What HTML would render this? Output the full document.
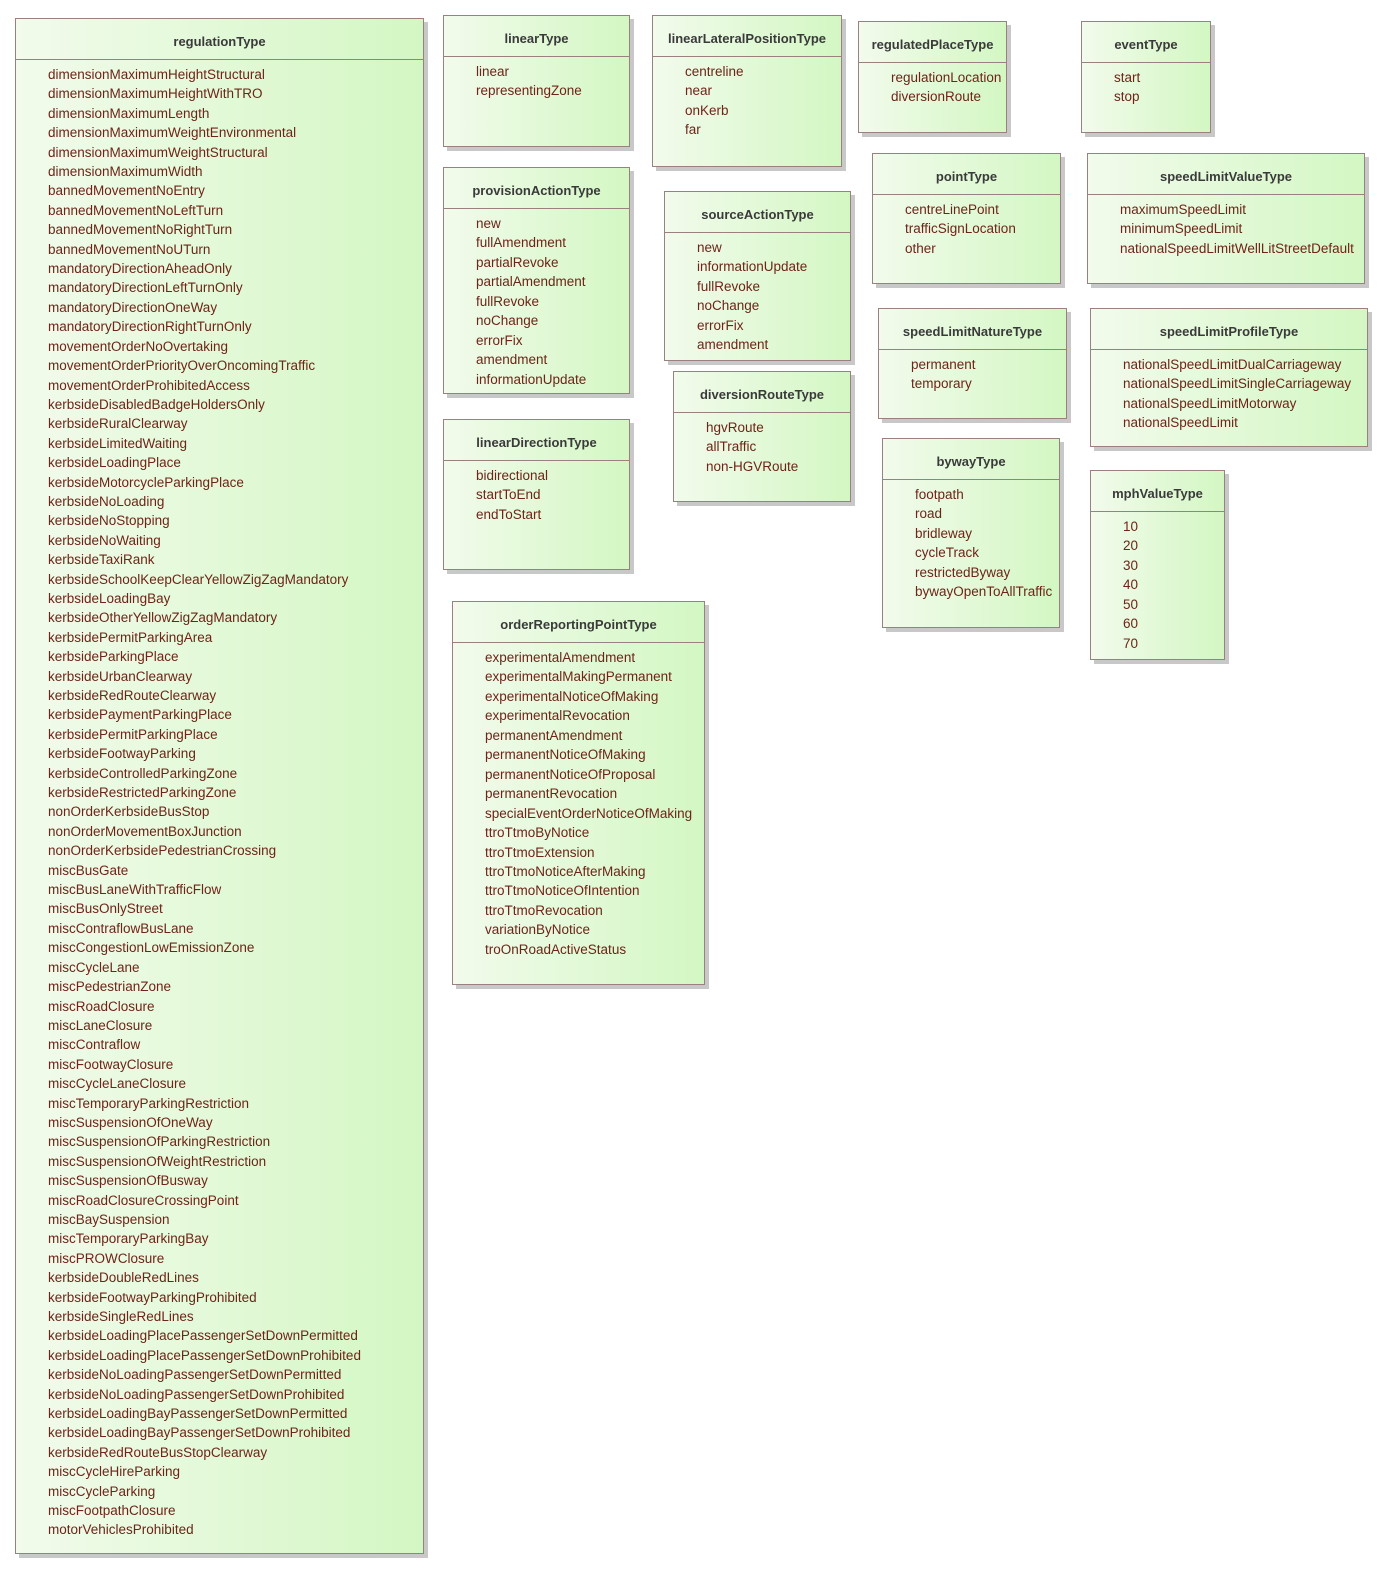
<!DOCTYPE html>
<html><head><meta charset="utf-8"><style>
body{margin:0;width:1388px;height:1574px;background:#fff;position:relative;overflow:hidden;font-family:"Liberation Sans",sans-serif}
.b{position:absolute;box-sizing:border-box;border:1px solid #9a8080;background:linear-gradient(90deg,#f2fbec 0%,#d3f7c3 100%);box-shadow:4px 4px 0 #c8c8c8}
.h{position:absolute;left:0;right:0;top:0;height:41px;border-bottom:1px solid #9a8080;box-sizing:border-box;text-align:center;font-weight:bold;font-size:13px;color:#3a3a3a;line-height:45px;white-space:nowrap}
.i{position:absolute;left:32px;top:46px;font-size:13.5px;color:#6e2418;line-height:19.45px;white-space:nowrap}
</style></head><body>
<div class="b" style="left:15px;top:18px;width:409px;height:1536px"><div class="h">regulationType</div><div class="i" style="line-height:19.41px">dimensionMaximumHeightStructural<br>dimensionMaximumHeightWithTRO<br>dimensionMaximumLength<br>dimensionMaximumWeightEnvironmental<br>dimensionMaximumWeightStructural<br>dimensionMaximumWidth<br>bannedMovementNoEntry<br>bannedMovementNoLeftTurn<br>bannedMovementNoRightTurn<br>bannedMovementNoUTurn<br>mandatoryDirectionAheadOnly<br>mandatoryDirectionLeftTurnOnly<br>mandatoryDirectionOneWay<br>mandatoryDirectionRightTurnOnly<br>movementOrderNoOvertaking<br>movementOrderPriorityOverOncomingTraffic<br>movementOrderProhibitedAccess<br>kerbsideDisabledBadgeHoldersOnly<br>kerbsideRuralClearway<br>kerbsideLimitedWaiting<br>kerbsideLoadingPlace<br>kerbsideMotorcycleParkingPlace<br>kerbsideNoLoading<br>kerbsideNoStopping<br>kerbsideNoWaiting<br>kerbsideTaxiRank<br>kerbsideSchoolKeepClearYellowZigZagMandatory<br>kerbsideLoadingBay<br>kerbsideOtherYellowZigZagMandatory<br>kerbsidePermitParkingArea<br>kerbsideParkingPlace<br>kerbsideUrbanClearway<br>kerbsideRedRouteClearway<br>kerbsidePaymentParkingPlace<br>kerbsidePermitParkingPlace<br>kerbsideFootwayParking<br>kerbsideControlledParkingZone<br>kerbsideRestrictedParkingZone<br>nonOrderKerbsideBusStop<br>nonOrderMovementBoxJunction<br>nonOrderKerbsidePedestrianCrossing<br>miscBusGate<br>miscBusLaneWithTrafficFlow<br>miscBusOnlyStreet<br>miscContraflowBusLane<br>miscCongestionLowEmissionZone<br>miscCycleLane<br>miscPedestrianZone<br>miscRoadClosure<br>miscLaneClosure<br>miscContraflow<br>miscFootwayClosure<br>miscCycleLaneClosure<br>miscTemporaryParkingRestriction<br>miscSuspensionOfOneWay<br>miscSuspensionOfParkingRestriction<br>miscSuspensionOfWeightRestriction<br>miscSuspensionOfBusway<br>miscRoadClosureCrossingPoint<br>miscBaySuspension<br>miscTemporaryParkingBay<br>miscPROWClosure<br>kerbsideDoubleRedLines<br>kerbsideFootwayParkingProhibited<br>kerbsideSingleRedLines<br>kerbsideLoadingPlacePassengerSetDownPermitted<br>kerbsideLoadingPlacePassengerSetDownProhibited<br>kerbsideNoLoadingPassengerSetDownPermitted<br>kerbsideNoLoadingPassengerSetDownProhibited<br>kerbsideLoadingBayPassengerSetDownPermitted<br>kerbsideLoadingBayPassengerSetDownProhibited<br>kerbsideRedRouteBusStopClearway<br>miscCycleHireParking<br>miscCycleParking<br>miscFootpathClosure<br>motorVehiclesProhibited</div></div>

<div class="b" style="left:443px;top:15px;width:187px;height:132px"><div class="h">linearType</div><div class="i">linear<br>representingZone</div></div>
<div class="b" style="left:652px;top:15px;width:190px;height:152px"><div class="h">linearLateralPositionType</div><div class="i">centreline<br>near<br>onKerb<br>far</div></div>
<div class="b" style="left:858px;top:21px;width:149px;height:112px"><div class="h">regulatedPlaceType</div><div class="i">regulationLocation<br>diversionRoute</div></div>
<div class="b" style="left:1081px;top:21px;width:130px;height:112px"><div class="h">eventType</div><div class="i">start<br>stop</div></div>
<div class="b" style="left:443px;top:167px;width:187px;height:227px"><div class="h">provisionActionType</div><div class="i">new<br>fullAmendment<br>partialRevoke<br>partialAmendment<br>fullRevoke<br>noChange<br>errorFix<br>amendment<br>informationUpdate</div></div>
<div class="b" style="left:664px;top:191px;width:187px;height:170px"><div class="h">sourceActionType</div><div class="i">new<br>informationUpdate<br>fullRevoke<br>noChange<br>errorFix<br>amendment</div></div>
<div class="b" style="left:872px;top:153px;width:189px;height:131px"><div class="h">pointType</div><div class="i">centreLinePoint<br>trafficSignLocation<br>other</div></div>
<div class="b" style="left:1087px;top:153px;width:278px;height:131px"><div class="h">speedLimitValueType</div><div class="i">maximumSpeedLimit<br>minimumSpeedLimit<br>nationalSpeedLimitWellLitStreetDefault</div></div>
<div class="b" style="left:878px;top:308px;width:189px;height:111px"><div class="h">speedLimitNatureType</div><div class="i">permanent<br>temporary</div></div>
<div class="b" style="left:1090px;top:308px;width:278px;height:139px"><div class="h">speedLimitProfileType</div><div class="i">nationalSpeedLimitDualCarriageway<br>nationalSpeedLimitSingleCarriageway<br>nationalSpeedLimitMotorway<br>nationalSpeedLimit</div></div>
<div class="b" style="left:673px;top:371px;width:178px;height:131px"><div class="h">diversionRouteType</div><div class="i">hgvRoute<br>allTraffic<br>non-HGVRoute</div></div>
<div class="b" style="left:882px;top:438px;width:178px;height:190px"><div class="h">bywayType</div><div class="i">footpath<br>road<br>bridleway<br>cycleTrack<br>restrictedByway<br>bywayOpenToAllTraffic</div></div>
<div class="b" style="left:1090px;top:470px;width:135px;height:190px"><div class="h">mphValueType</div><div class="i">10<br>20<br>30<br>40<br>50<br>60<br>70</div></div>
<div class="b" style="left:443px;top:419px;width:187px;height:151px"><div class="h">linearDirectionType</div><div class="i">bidirectional<br>startToEnd<br>endToStart</div></div>
<div class="b" style="left:452px;top:601px;width:253px;height:384px"><div class="h">orderReportingPointType</div><div class="i">experimentalAmendment<br>experimentalMakingPermanent<br>experimentalNoticeOfMaking<br>experimentalRevocation<br>permanentAmendment<br>permanentNoticeOfMaking<br>permanentNoticeOfProposal<br>permanentRevocation<br>specialEventOrderNoticeOfMaking<br>ttroTtmoByNotice<br>ttroTtmoExtension<br>ttroTtmoNoticeAfterMaking<br>ttroTtmoNoticeOfIntention<br>ttroTtmoRevocation<br>variationByNotice<br>troOnRoadActiveStatus</div></div>
</body></html>
